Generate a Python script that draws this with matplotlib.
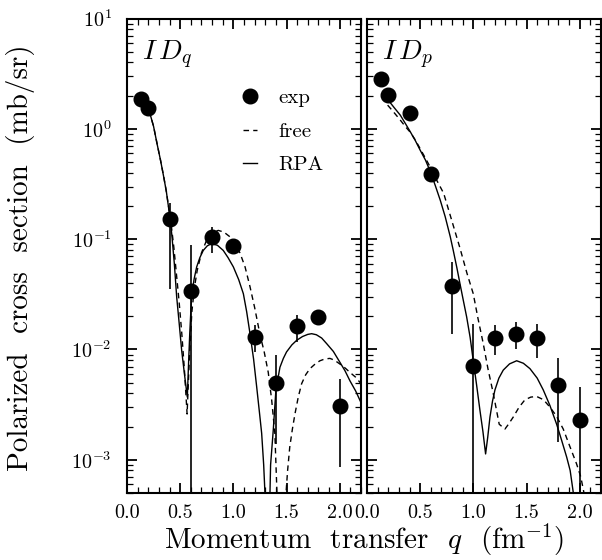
import numpy as np
import matplotlib
matplotlib.use("Agg")
import matplotlib.pyplot as plt
from matplotlib.lines import Line2D
from matplotlib.ticker import MultipleLocator, FixedLocator, FixedFormatter, LogLocator, NullFormatter

plt.rcParams['font.family'] = 'serif'
plt.rcParams['font.serif'] = ['cmr10']
plt.rcParams['mathtext.fontset'] = 'cm'
plt.rcParams['axes.formatter.use_mathtext'] = True

# ---- data ----
# ID_q panel
q_exp_q = [0.135, 0.2, 0.4, 0.6, 0.8, 1.0, 1.2, 1.4, 1.6, 1.8, 2.0]
y_exp_q = [1.86, 1.54, 0.151, 0.034, 0.104, 0.086, 0.0131, 0.0050, 0.0162, 0.0196, 0.0031]
lo_exp_q = [1.86, 1.54, 0.035, 1e-6, 0.075, 0.086, 0.0095, 0.0014, 0.0117, 0.0166, 0.00086]
hi_exp_q = [1.86, 1.54, 0.212, 0.088, 0.128, 0.086, 0.0166, 0.0089, 0.0204, 0.023, 0.0054]

q_rpa_q = [0.2, 0.22, 0.25, 0.282, 0.315, 0.345, 0.37, 0.39, 0.41, 0.423, 0.445, 0.467, 0.49,
           0.514, 0.54, 0.567, 0.58, 0.59, 0.6, 0.608, 0.63, 0.655, 0.685, 0.717, 0.755, 0.796,
           0.85, 0.905, 0.95, 1.0, 1.05, 1.094, 1.125, 1.156, 1.19, 1.219, 1.245, 1.266, 1.285,
           1.297, 1.31, 1.335, 1.35, 1.375, 1.40, 1.438, 1.47, 1.5, 1.55, 1.595, 1.65, 1.70,
           1.736, 1.78, 1.83, 1.877, 1.94, 2.0, 2.05, 2.096, 2.15, 2.2]
y_rpa_q = [1.45, 1.33, 1.05, 0.736, 0.52, 0.367, 0.27, 0.196, 0.14, 0.105, 0.06, 0.030, 0.0175,
           0.0098, 0.0060, 0.0037, 0.008, 0.014, 0.022, 0.030, 0.043, 0.056, 0.068, 0.079, 0.087, 0.091,
           0.088, 0.079, 0.068, 0.056, 0.043, 0.032, 0.022, 0.014, 0.0082, 0.0046, 0.0027, 0.00174, 0.0009,
           0.0005, 0.0002, 0.0002, 0.0009, 0.00185, 0.0043, 0.0069, 0.0083, 0.0095, 0.0110, 0.0121, 0.0131, 0.0137,
           0.0139, 0.0136, 0.0127, 0.0113, 0.0096, 0.0077, 0.0064, 0.0052, 0.0042, 0.0033]

q_free_q = [0.2, 0.22, 0.25, 0.282, 0.315, 0.345, 0.37, 0.39, 0.41, 0.44, 0.465, 0.49, 0.515,
            0.54, 0.565, 0.575, 0.59, 0.61, 0.635, 0.66, 0.70, 0.749, 0.80, 0.858, 0.91, 0.968,
            1.015, 1.062, 1.11, 1.156, 1.20, 1.25, 1.29, 1.328, 1.36, 1.39, 1.41, 1.45,
            1.495, 1.51, 1.53, 1.555, 1.579, 1.61, 1.642, 1.68, 1.72, 1.77, 1.814, 1.86, 1.908,
            1.95, 2.0, 2.05, 2.096, 2.15, 2.2]
y_free_q = [1.45, 1.33, 1.05, 0.74, 0.52, 0.37, 0.27, 0.20, 0.15, 0.085, 0.048, 0.027, 0.014,
            0.0065, 0.0026, 0.0045, 0.010, 0.022, 0.037, 0.052, 0.075, 0.098, 0.114, 0.120, 0.116, 0.105,
            0.091, 0.075, 0.056, 0.0372, 0.024, 0.0137, 0.0095, 0.0062, 0.0035, 0.00174, 0.0005, 0.0002,
            0.0005, 0.0008, 0.0013, 0.0019, 0.0026, 0.0037, 0.0049, 0.0059, 0.0067, 0.0074, 0.0079, 0.0082, 0.0083,
            0.0080, 0.0074, 0.0068, 0.0062, 0.0056, 0.0049]

# ID_p panel
q_exp_p = [0.135, 0.2, 0.4, 0.6, 0.8, 1.0, 1.2, 1.4, 1.6, 1.8, 2.0]
y_exp_p = [2.83, 2.02, 1.39, 0.388, 0.0374, 0.0071, 0.0126, 0.0137, 0.0126, 0.0048, 0.00228]
lo_exp_p = [2.83, 2.02, 1.39, 0.388, 0.0139, 1e-6, 0.0090, 0.0100, 0.0084, 0.00145, 1e-6]
hi_exp_p = [2.83, 2.02, 1.39, 0.388, 0.062, 0.0171, 0.0166, 0.0177, 0.0171, 0.0084, 0.00456]

q_rpa_p = [0.194, 0.25, 0.313, 0.36, 0.407, 0.455, 0.5, 0.55, 0.595, 0.64, 0.689, 0.735, 0.783,
           0.811, 0.845, 0.874, 0.905, 0.937, 0.97, 0.999, 1.03, 1.062, 1.09, 1.115, 1.135, 1.156,
           1.18, 1.203, 1.24, 1.281, 1.34, 1.407, 1.47, 1.532, 1.6, 1.657, 1.72, 1.783, 1.83,
           1.877, 1.91, 1.94, 1.96]
y_rpa_p = [1.85, 1.58, 1.33, 1.12, 0.94, 0.78, 0.64, 0.52, 0.41, 0.31, 0.225, 0.16, 0.105,
           0.079, 0.055, 0.0395, 0.028, 0.0197, 0.0128, 0.0079, 0.0048, 0.0028, 0.0018, 0.00113, 0.0016, 0.00244,
           0.0034, 0.0043, 0.0055, 0.0065, 0.0074, 0.0079, 0.0075, 0.0067, 0.0055, 0.0043, 0.0031, 0.0021, 0.0015,
           0.00106, 0.0008, 0.0005, 0.0003]

q_free_p = [0.194, 0.25, 0.313, 0.36, 0.407, 0.455, 0.5, 0.55, 0.6, 0.65, 0.721, 0.815, 0.874,
            0.94, 0.999, 1.043, 1.093, 1.137, 1.187, 1.243, 1.297, 1.33, 1.375, 1.43, 1.485,
            1.54, 1.595, 1.66, 1.72, 1.78, 1.845, 1.91, 1.97, 2.01, 2.04, 2.06]
y_free_p = [1.64, 1.42, 1.2, 1.05, 0.93, 0.79, 0.66, 0.54, 0.44, 0.35, 0.26, 0.129, 0.083,
            0.049, 0.032, 0.0192, 0.0113, 0.0067, 0.0040, 0.0021, 0.0019, 0.0021, 0.00244, 0.0030, 0.0035,
            0.0037, 0.00375, 0.0035, 0.0030, 0.0025, 0.0019, 0.0013, 0.00092, 0.0007, 0.0005, 0.0003]

panel_labels = [r'$I\,D_q$', r'$I\,D_p$']
ytick_vals = [1e1, 1e0, 1e-1, 1e-2, 1e-3]
ytick_text = [r'$10^{1}$', r'$10^{0}$', r'$10^{-1}$', r'$10^{-2}$', r'$10^{-3}$']
xtick_vals = [0.0, 0.5, 1.0, 1.5, 2.0]
xtick_text = ['0.0', '0.5', '1.0', '1.5', '2.0']

fig = plt.figure(figsize=(6.02, 5.6), dpi=100)
W, H = 602, 560
ax1 = fig.add_axes([127 / W, 67 / H, 234 / W, 474.5 / H])
ax2 = fig.add_axes([367 / W, 67 / H, 234 / W, 474.5 / H])

panels = [
    (ax1, q_exp_q, y_exp_q, lo_exp_q, hi_exp_q, q_rpa_q, y_rpa_q, q_free_q, y_free_q),
    (ax2, q_exp_p, y_exp_p, lo_exp_p, hi_exp_p, q_rpa_p, y_rpa_p, q_free_p, y_free_p),
]

for i, (ax, qe, ye, lo, hi, qr, yr, qf, yf) in enumerate(panels):
    ax.set_yscale('log')
    ax.plot(qr, yr, color='black', lw=1.0)
    ax.plot(qf, yf, color='black', lw=1.0, ls=(0, (4, 3)))
    ye = np.array(ye)
    yerr = [ye - np.array(lo), np.array(hi) - ye]
    ax.errorbar(qe, ye, yerr=yerr, fmt='o', color='black', ms=10.5, elinewidth=1.2, capsize=0)
    ax.set_xlim(0, 2.2)
    ax.set_ylim(5e-4, 10)

    ax.xaxis.set_major_locator(FixedLocator(xtick_vals))
    ax.xaxis.set_major_formatter(FixedFormatter(xtick_text))
    ax.xaxis.set_minor_locator(MultipleLocator(0.1))
    ax.yaxis.set_major_locator(FixedLocator(ytick_vals))
    ax.yaxis.set_minor_locator(LogLocator(base=10, subs=np.arange(2, 10)))
    ax.yaxis.set_minor_formatter(NullFormatter())
    if i == 0:
        ax.yaxis.set_major_formatter(FixedFormatter(ytick_text))
    else:
        ax.yaxis.set_major_formatter(NullFormatter())

    ax.tick_params(which='both', direction='in', top=True, right=True, labelsize=14.5)
    ax.tick_params(which='major', length=7.5, width=1.3)
    ax.tick_params(which='minor', length=4, width=0.9)
    ax.tick_params(axis='x', which='major', pad=8)
    ax.tick_params(axis='y', which='major', pad=11)
    for s in ax.spines.values():
        s.set_linewidth(1.5)

    ax.text(0.064, 0.957, panel_labels[i], transform=ax.transAxes, fontsize=20,
            va='top', ha='left')

handles = [Line2D([], [], marker='o', ls='none', color='black', ms=10.5),
           Line2D([], [], color='black', lw=1.0, ls=(0, (4, 3))),
           Line2D([], [], color='black', lw=1.0)]
ax1.legend(handles, ['exp', 'free', 'RPA'], loc='upper left', bbox_to_anchor=(0.495, 0.852),
           frameon=False, fontsize=15, handlelength=0.7, handletextpad=1.0,
           labelspacing=0.72, borderpad=0, borderaxespad=0)

fig.text(364 / W, (560 - 540) / H, r'Momentum  transfer  $q$  ($\mathrm{fm}^{-1}$)',
         ha='center', va='center', fontsize=21)
fig.text(21 / W, (560 - 258) / H, 'Polarized  cross  section  (mb/sr)',
         ha='center', va='center', rotation=90, fontsize=21)

fig.savefig('out.png', dpi=100)
